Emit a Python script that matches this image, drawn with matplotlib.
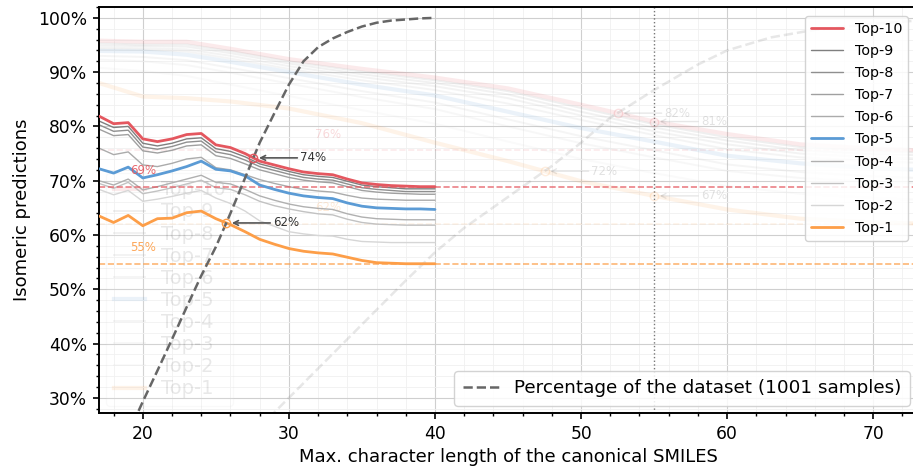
import numpy as np
import matplotlib
matplotlib.use("Agg")
import matplotlib.pyplot as plt
from matplotlib.ticker import MultipleLocator, FuncFormatter

# ---------------------------------------------------------------- data ---
max_len = list(range(17, 41))

top10 = [81.9, 80.5, 80.7, 77.7, 77.2, 77.7, 78.5, 78.7, 76.6, 76.1, 75.0, 73.6,
         72.9, 72.2, 71.6, 71.3, 71.1, 70.3, 69.6, 69.3, 69.1, 69.0, 68.9, 68.9]
top9 = [81.0, 79.8, 80.0, 76.9, 76.4, 76.9, 77.7, 77.9, 75.9, 75.4, 74.4, 73.1,
        72.4, 71.7, 71.1, 70.8, 70.6, 69.9, 69.2, 68.9, 68.7, 68.5, 68.5, 68.5]
top8 = [80.3, 79.1, 79.3, 76.2, 75.8, 76.3, 77.1, 77.3, 75.3, 74.8, 73.8, 72.6,
        71.9, 71.2, 70.6, 70.3, 70.1, 69.4, 68.7, 68.4, 68.2, 68.0, 68.0, 68.0]
top7 = [79.5, 78.3, 78.5, 75.5, 75.1, 75.6, 76.4, 76.6, 74.6, 74.1, 73.1, 72.0,
        71.3, 70.6, 70.1, 69.8, 69.6, 68.9, 68.2, 67.9, 67.7, 67.6, 67.5, 67.5]
top6 = [76.0, 74.8, 75.3, 72.9, 72.6, 73.2, 74.0, 74.3, 72.4, 72.0, 71.1, 70.2,
        69.5, 68.9, 68.4, 68.1, 67.9, 67.3, 66.8, 66.6, 66.5, 66.4, 66.4, 66.4]
top5 = [72.2, 71.4, 72.5, 70.5, 71.1, 71.8, 72.6, 73.6, 72.1, 71.8, 70.9, 69.2,
        68.4, 67.7, 67.2, 66.9, 66.7, 65.9, 65.3, 65.0, 64.9, 64.8, 64.8, 64.7]
top4 = [70.0, 69.2, 70.3, 68.3, 68.9, 69.6, 70.3, 71.0, 69.7, 69.4, 68.4, 67.2,
        66.4, 65.7, 65.2, 64.9, 64.7, 63.9, 63.3, 63.0, 62.9, 62.8, 62.8, 62.8]
top3 = [69.5, 68.6, 69.7, 67.6, 68.1, 68.7, 69.4, 70.1, 68.7, 68.4, 67.4, 66.2,
        65.4, 64.8, 64.3, 63.9, 63.7, 62.9, 62.3, 62.0, 61.9, 61.8, 61.8, 61.8]
top2 = [68.4, 67.4, 68.2, 66.2, 66.6, 67.1, 67.7, 68.2, 66.8, 65.8, 64.4, 62.6,
        61.6, 60.6, 60.2, 59.9, 59.8, 59.2, 58.8, 58.7, 58.6, 58.6, 58.6, 58.6]
top1 = [63.5, 62.3, 63.6, 61.7, 63.0, 63.1, 64.1, 64.4, 63.0, 61.9, 60.6, 59.2,
        58.3, 57.5, 57.0, 56.7, 56.5, 55.9, 55.3, 54.9, 54.8, 54.7, 54.7, 54.7]
dataset_pct = [12.0, 17.6, 23.4, 29.3, 35.0, 40.8, 46.7, 52.5, 57.8, 64.0, 70.5, 77.0,
               82.4, 87.7, 92.0, 94.6, 96.2, 97.4, 98.4, 99.1, 99.5, 99.7, 99.9, 100.0]
n_samples = 1001

# previous run, kept in the background for comparison
prev_len = [17, 20, 23, 26, 30, 35, 40, 45, 50, 55, 60, 65, 70, 73]
prev_top10 = [95.8, 95.6, 95.6, 94.3, 92.4, 90.6, 89.0, 87.0, 84.0, 80.9, 78.6, 76.7, 75.9, 75.6]
prev_top9 = [95.3, 95.1, 95.1, 93.9, 92.0, 90.1, 88.5, 86.5, 83.4, 80.4, 78.0, 76.2, 75.4, 75.2]
prev_top8 = [94.9, 94.8, 94.7, 93.5, 91.6, 89.6, 88.0, 85.9, 82.7, 79.8, 77.4, 75.6, 74.9, 74.7]
prev_top7 = [94.5, 94.4, 94.2, 93.0, 91.1, 89.1, 87.4, 85.2, 82.0, 79.1, 76.7, 75.0, 74.3, 74.1]
prev_top6 = [94.2, 94.1, 93.8, 92.5, 90.6, 88.5, 86.7, 84.2, 81.2, 78.4, 75.8, 74.3, 73.6, 73.3]
prev_top5 = [93.9, 93.8, 93.2, 91.9, 90.0, 87.7, 85.7, 82.7, 79.7, 77.2, 74.6, 73.2, 72.3, 72.0]
prev_top4 = [93.0, 92.8, 92.2, 90.8, 88.9, 86.5, 84.4, 81.3, 78.2, 75.6, 73.0, 71.6, 70.8, 70.5]
prev_top3 = [92.3, 92.0, 91.3, 89.9, 87.9, 85.4, 83.2, 80.0, 76.9, 74.3, 71.8, 70.5, 69.8, 69.5]
prev_top2 = [90.8, 90.2, 89.3, 87.7, 85.6, 83.0, 80.5, 77.2, 74.0, 71.4, 69.0, 67.6, 66.8, 66.5]
prev_top1 = [88.0, 85.5, 85.2, 84.6, 83.3, 80.6, 77.0, 73.6, 69.9, 67.2, 64.7, 63.0, 62.3, 62.1]
prev_dataset_len = [28, 29, 30, 32, 35, 38, 40, 42, 45, 48, 50, 52, 55, 58, 60, 63, 66, 70, 73]
prev_dataset_pct = [24.6, 27.3, 30.0, 35.4, 43.5, 51.6, 56.8, 61.3, 67.0, 72.7, 77.0, 81.6,
                    86.7, 91.4, 94.0, 96.4, 97.8, 98.9, 99.5]
prev_cut = 55

labels = ["Top-10", "Top-9", "Top-8", "Top-7", "Top-6",
          "Top-5", "Top-4", "Top-3", "Top-2", "Top-1"]
series = [top10, top9, top8, top7, top6, top5, top4, top3, top2, top1]
prev_series = [prev_top10, prev_top9, prev_top8, prev_top7, prev_top6,
               prev_top5, prev_top4, prev_top3, prev_top2, prev_top1]

RED, BLUE, ORANGE = "#e4575f", "#5b9bd5", "#fd9e48"
styles = [
    dict(color=RED, lw=2.0, zorder=3),
    dict(color="#7f7f7f", lw=1.0, zorder=2),
    dict(color="#8f8f8f", lw=1.0, zorder=2),
    dict(color="#a0a0a0", lw=1.0, zorder=2),
    dict(color="#ababab", lw=1.0, zorder=2),
    dict(color=BLUE, lw=2.0, zorder=3),
    dict(color="#b0b0b0", lw=1.0, zorder=2),
    dict(color="#c2c2c2", lw=1.0, zorder=2),
    dict(color="#d6d6d6", lw=1.0, zorder=2),
    dict(color=ORANGE, lw=2.0, zorder=3),
]
FADE = 0.12


def crossing(xa, ya, xb, yb, lo, hi):
    """First point where curve b rises through curve a."""
    xs = np.linspace(lo, hi, 4001)
    d = np.interp(xs, xa, ya) - np.interp(xs, xb, yb)
    i = np.nonzero(d <= 0)[0][0]
    return xs[i], float(np.interp(xs[i], xa, ya))


plt.rcParams["font.family"] = ["DejaVu Sans"]
fig = plt.figure(figsize=(9.13, 4.70), dpi=100)
ax = fig.add_axes([99 / 913, 57 / 470, 818 / 913, 406 / 470])

# ---------------------------------------------- background (previous run) ---
prev_lines = []
for lab, ys, st in zip(labels, prev_series, styles):
    lw = 3.0 if st["lw"] > 1.5 else 1.4
    ln, = ax.plot(prev_len, ys, color=st["color"], lw=lw, alpha=FADE, zorder=1,
                  label=lab)
    prev_lines.append(ln)
ax.plot(prev_dataset_len, prev_dataset_pct, ls="--", color="#888888", lw=1.8,
        alpha=0.2, zorder=1)
for ys, col in ((prev_top10, RED), (prev_top1, ORANGE)):
    ax.axhline(ys[-1], color=col, ls="--", lw=1.2, alpha=FADE, zorder=1)
    ax.text(31.8, ys[-1] + 3, f"{ys[-1]:.0f}%", color=col, alpha=0.22,
            fontsize=8.5, va="center", ha="left", zorder=1)
ax.axvline(prev_cut, color="#555555", ls=":", lw=1.0, alpha=0.8, zorder=1)

prev_marks = [crossing(prev_len, prev_top10, prev_dataset_len, prev_dataset_pct, 40, 73),
              crossing(prev_len, prev_top1, prev_dataset_len, prev_dataset_pct, 40, 73),
              (prev_cut, float(np.interp(prev_cut, prev_len, prev_top10))),
              (prev_cut, float(np.interp(prev_cut, prev_len, prev_top1)))]
for (xm, ym), col in zip(prev_marks, (RED, ORANGE, RED, ORANGE)):
    ax.plot([xm], [ym], "o", mfc="none", mec=col, ms=6, alpha=0.18, zorder=1)
    ax.annotate(f"{ym:.0f}%", xy=(xm, ym), xytext=(xm + 3.2, ym),
                fontsize=8.5, color="#333333", alpha=0.14, va="center", ha="left",
                arrowprops=dict(arrowstyle="->", color="#555555", lw=1.0,
                                alpha=0.14, shrinkA=0, shrinkB=4), zorder=1)

leg_prev = ax.legend(handles=prev_lines, loc="lower left",
                     bbox_to_anchor=(0.009, 0.017), borderaxespad=0, fontsize=14,
                     labelspacing=0.16, handlelength=1.6, frameon=True,
                     fancybox=True)
for t in leg_prev.get_texts():
    t.set_alpha(0.09)
leg_prev.get_frame().set_alpha(0.1)
leg_prev.set_zorder(1)
ax.add_artist(leg_prev)

# ------------------------------------------------------ current run --------
lines = []
for lab, ys, st in zip(labels, series, styles):
    ln, = ax.plot(max_len, ys, label=lab, solid_capstyle="round", **st)
    lines.append(ln)

for ys, col in ((top10, RED), (top1, ORANGE)):
    ax.axhline(ys[-1], color=col, ls="--", lw=1.2, alpha=0.75, zorder=2)
    ax.text(19.1, ys[-1] + 3, f"{ys[-1]:.0f}%", color=col, alpha=0.9,
            fontsize=8.5, va="center", ha="left", zorder=3)

ds_line, = ax.plot(max_len, dataset_pct, ls="--", color="#666666", lw=1.8,
                   zorder=4, label=f"Percentage of the dataset ({n_samples} samples)")

for ys, col in ((top10, RED), (top1, ORANGE)):
    xm, ym = crossing(max_len, ys, max_len, dataset_pct, 20, 40)
    ax.plot([xm], [ym], "o", mfc="none", mec=col, ms=6, mew=1.0, zorder=5)
    ax.annotate(f"{ym:.0f}%", xy=(xm, ym), xytext=(xm + 3.2, ym),
                fontsize=8.5, color="#333333", va="center", ha="left",
                arrowprops=dict(arrowstyle="->", color="#555555", lw=1.2,
                                shrinkA=0, shrinkB=4), zorder=5)

leg_top = ax.legend(handles=lines, loc="upper right", fontsize=10.3,
                    labelspacing=0.57, handlelength=2.3, borderaxespad=0.62,
                    framealpha=0.85)
ax.add_artist(leg_top)
ax.legend(handles=[ds_line], loc="lower right", fontsize=13.2,
          borderaxespad=0.4, borderpad=0.45, framealpha=0.85)

# ------------------------------------------------------------- axes ---------
ax.set_xlim(17, 73)
ax.set_ylim(27.2, 102.0)
ax.xaxis.set_major_locator(MultipleLocator(10))
ax.xaxis.set_minor_locator(MultipleLocator(2))
ax.yaxis.set_major_locator(MultipleLocator(10))
ax.yaxis.set_minor_locator(MultipleLocator(2))
ax.yaxis.set_major_formatter(FuncFormatter(lambda v, _: f"{v:.0f}%"))
ax.set_axisbelow(True)
ax.grid(which="major", color="#cfcfcf", lw=0.8)
ax.grid(which="minor", color="#f0f0f0", lw=0.6)
ax.tick_params(which="major", direction="out", length=4.5, width=1.2,
               labelsize=12.3, pad=4)
ax.tick_params(which="minor", direction="out", length=2.5, width=1.0)
for sp in ax.spines.values():
    sp.set_linewidth(1.4)
    sp.set_color("black")

ax.set_xlabel("Max. character length of the canonical SMILES", fontsize=13)
ax.set_ylabel("Isomeric predictions", fontsize=13, labelpad=5)

fig.savefig("out.png", dpi=100)
